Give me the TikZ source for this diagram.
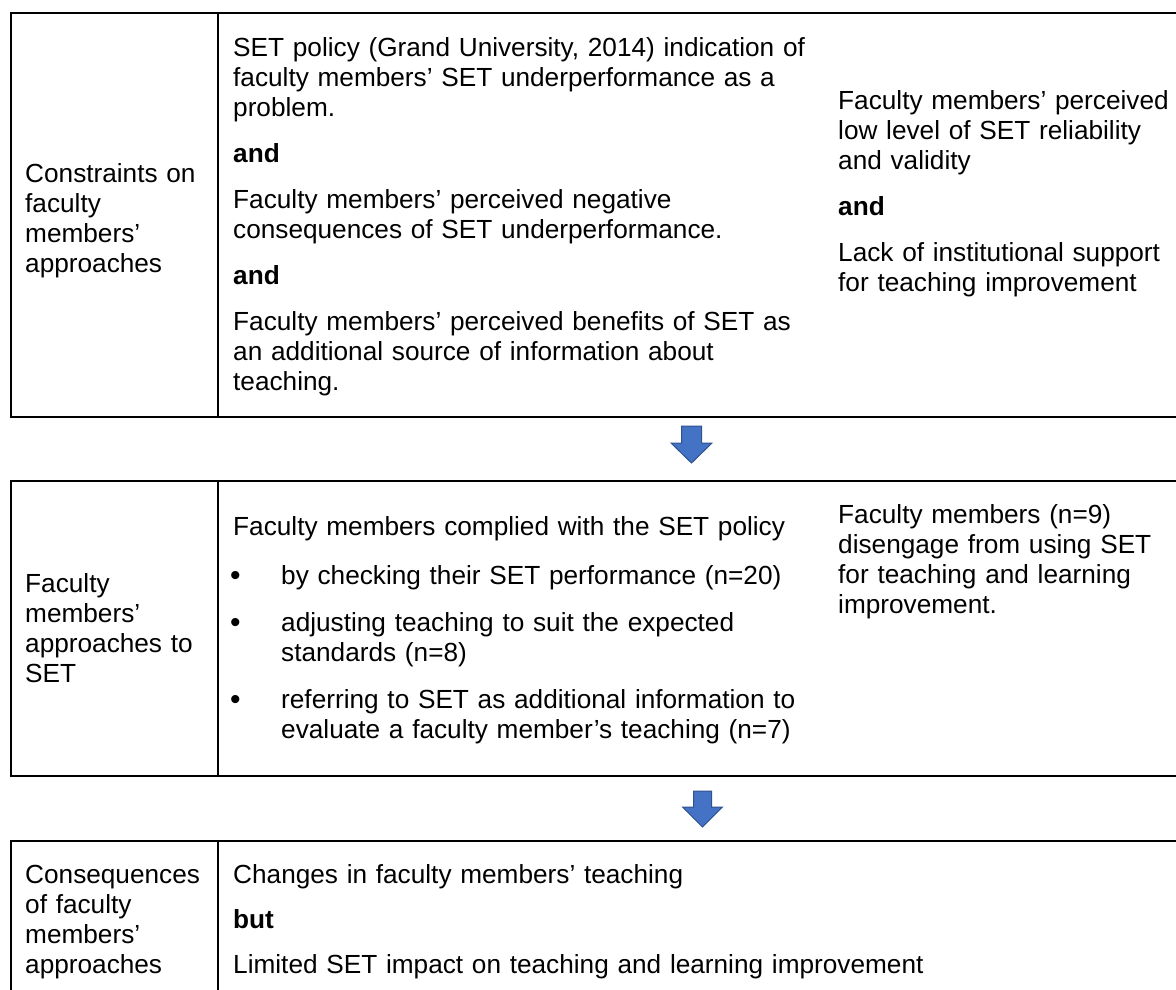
\documentclass[tikz,border=0pt]{standalone}
\usepackage{fontspec}
\setmainfont{Liberation Sans}
\definecolor{arrowblue}{HTML}{4472C4}
\definecolor{arrowedge}{HTML}{2F528F}
\begin{document}
\begin{tikzpicture}[x=1pt,y=-1pt,
  frame/.style={line width=2pt,draw=black},
  cell/.style={anchor=base west,inner sep=0pt,align=left,text width=#1,font=\fontsize{26.2}{30}\selectfont},
  cell/.default=600pt,
  dot/.style={anchor=base west,inner sep=0pt,font=\fontsize{30}{30}\selectfont},
  blockarrow/.style={fill=arrowblue,draw=arrowedge,line width=1pt,line join=miter}]
\useasboundingbox (0,0) rectangle (1176,990);
\fill[white] (0,0) rectangle (1176,990);
\begin{scope}
\clip (0,0) rectangle (1176,990);
% frames
\draw[frame] (11,13) rectangle (1200,417);
\draw[frame] (218,13) -- (218,417);
\draw[frame] (11,481) rectangle (1200,776);
\draw[frame] (218,481) -- (218,776);
\draw[frame] (11,841) rectangle (1200,1010);
\draw[frame] (218,841) -- (218,1010);
\end{scope}
% box 1
\node[cell=190pt] (c1l) at (25,182) {Constraints on\\faculty\\members’\\approaches};
\node[cell] (c1m) at (233,57) {SET policy (Grand University, 2014) indication of\\faculty members’ SET underperformance as a\\problem.\\[16pt]\textbf{and}\\[16pt]Faculty members’ perceived negative\\consequences of SET underperformance.\\[16pt]\textbf{and}\\[16pt]Faculty members’ perceived benefits of SET as\\an additional source of information about\\teaching.};
\node[cell=340pt] (c1r) at (838,110) {Faculty members’ perceived\\low level of SET reliability\\and validity\\[16pt]\textbf{and}\\[16pt]Lack of institutional support\\for teaching improvement};
% arrow 1
\draw[blockarrow] (681.5,426) -- (701.5,426) -- (701.5,443) -- (712,443) -- (691.5,463) -- (671,443) -- (681.5,443) -- cycle;
% box 2
\node[cell=190pt] (c2l) at (25,592) {Faculty\\members’\\approaches to\\SET};
\node[cell] (c2m) at (233,535) {Faculty members complied with the SET policy};
\node[dot] (d1) at (230,585) {•};
\node[cell] (b1) at (281,584) {by checking their SET performance (n=20)};
\node[dot] (d2) at (230,632) {•};
\node[cell] (b2) at (281,631) {adjusting teaching to suit the expected\\standards (n=8)};
\node[dot] (d3) at (230,709) {•};
\node[cell] (b3) at (281,708) {referring to SET as additional information to\\evaluate a faculty member’s teaching (n=7)};
\node[cell=340pt] (c2r) at (838,523) {Faculty members (n=9)\\disengage from using SET\\for teaching and learning\\improvement.};
% arrow 2
\draw[blockarrow] (693.5,791) -- (711.5,791) -- (711.5,807) -- (722.5,807) -- (702.5,827) -- (682.5,807) -- (693.5,807) -- cycle;
% box 3
\node[cell=190pt] (c3l) at (25,883) {Consequences\\of faculty\\members’\\approaches};
\node[cell=900pt] (c3m) at (233,883) {Changes in faculty members’ teaching\\[15pt]\textbf{but}\\[15pt]Limited SET impact on teaching and learning improvement};
\end{tikzpicture}
\end{document}
